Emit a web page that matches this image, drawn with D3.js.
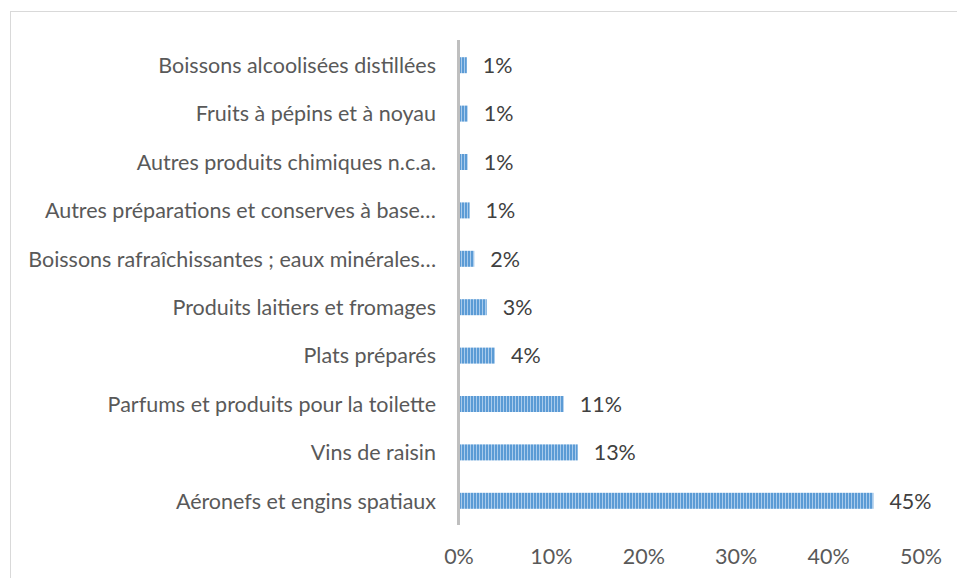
<!DOCTYPE html>
<html>
<meta charset="utf-8">
<style>
  body { margin: 0; background: #fff; }
  .cat text { font-family: Lato, sans-serif; fill: #595959; }
  .lbl { font-family: Lato, sans-serif; fill: #404040; }
  .xaxis text { font-family: Lato, sans-serif; fill: #595959; }
</style>
<script src="https://d3js.org/d3.v7.min.js"></script>
<body>
<script>
  var svgWidth = 957, svgHeight = 578;

  var categories = [
    "Boissons alcoolisées distillées",
    "Fruits à pépins et à noyau",
    "Autres produits chimiques n.c.a.",
    "Autres préparations et conserves à base…",
    "Boissons rafraîchissantes ; eaux minérales…",
    "Produits laitiers et fromages",
    "Plats préparés",
    "Parfums et produits pour la toilette",
    "Vins de raisin",
    "Aéronefs et engins spatiaux"
  ];
  var values = [0.9, 1.0, 1.0, 1.2, 1.7, 3.05, 3.95, 11.4, 12.9, 44.9];
  var labels = ["1%", "1%", "1%", "1%", "2%", "3%", "4%", "11%", "13%", "45%"];
  var ticks = [0, 10, 20, 30, 40, 50];

  var svg = d3.select("body").append("svg")
    .attr("width", svgWidth).attr("height", svgHeight);

  // chart border
  svg.append("rect")
    .attr("x", 10.5).attr("y", 11.5)
    .attr("width", svgWidth).attr("height", svgHeight)
    .attr("fill", "none").attr("stroke", "#d9d9d9");

  var defs = svg.append("defs");
  var pat = defs.append("pattern")
    .attr("id", "stripes").attr("patternUnits", "userSpaceOnUse")
    .attr("width", 3).attr("height", 10);
  pat.append("rect").attr("width", 3).attr("height", 10).attr("fill", "#5b9bd5");
  pat.append("rect").attr("x", 2).attr("width", 1).attr("height", 10).attr("fill", "#a9cbec");

  var x = d3.scaleLinear().domain([0, 50]).range([458.5, 920.5]);
  var y = d3.scaleBand().domain(categories).range([41, 525]).paddingInner(0.67).paddingOuter(0.335);

  var bh = 16;
  function cy(d) { return y(d) + y.bandwidth() / 2; }

  // category labels first, to size the font
  var cat = svg.append("g").attr("class", "cat");
  var catText = cat.selectAll("text")
    .data(categories)
    .enter().append("text")
    .attr("x", 436)
    .attr("y", function(d) { return cy(d); })
    .attr("dy", "0.36em")
    .attr("text-anchor", "end")
    .style("font-size", "20px")
    .text(function(d) { return d; });
  var widest = d3.max(catText.nodes(), function(n) { return n.getComputedTextLength(); });
  var fs = 20 * 408 / widest;
  catText.style("font-size", fs + "px");

  svg.selectAll(".bar")
    .data(values)
    .enter().append("rect")
    .attr("class", "bar")
    .attr("x", x(0) + 1.5)
    .attr("y", function(d, i) { return cy(categories[i]) - bh / 2; })
    .attr("width", function(d) { return x(d) - x(0) - 1.5; })
    .attr("height", bh)
    .attr("fill", "url(#stripes)");

  svg.selectAll(".lbl")
    .data(values)
    .enter().append("text")
    .attr("class", "lbl")
    .attr("x", function(d) { return x(d) + 16; })
    .attr("y", function(d, i) { return cy(categories[i]); })
    .attr("dy", "0.36em")
    .style("font-size", fs + "px")
    .text(function(d, i) { return labels[i]; });

  svg.append("line")
    .attr("x1", x(0)).attr("x2", x(0))
    .attr("y1", 40).attr("y2", 525)
    .attr("stroke", "#bfbfbf").attr("stroke-width", 3);

  var xaxis = svg.append("g").attr("class", "xaxis")
    .attr("transform", "translate(0,556)")
    .call(d3.axisBottom(x).tickValues(ticks).tickSize(0).tickPadding(0)
      .tickFormat(function(d) { return d + "%"; }));
  xaxis.select(".domain").remove();
  xaxis.selectAll("text").attr("y", 0).attr("dy", "0.36em").style("font-size", fs + "px");
</script>
</body>
</html>
